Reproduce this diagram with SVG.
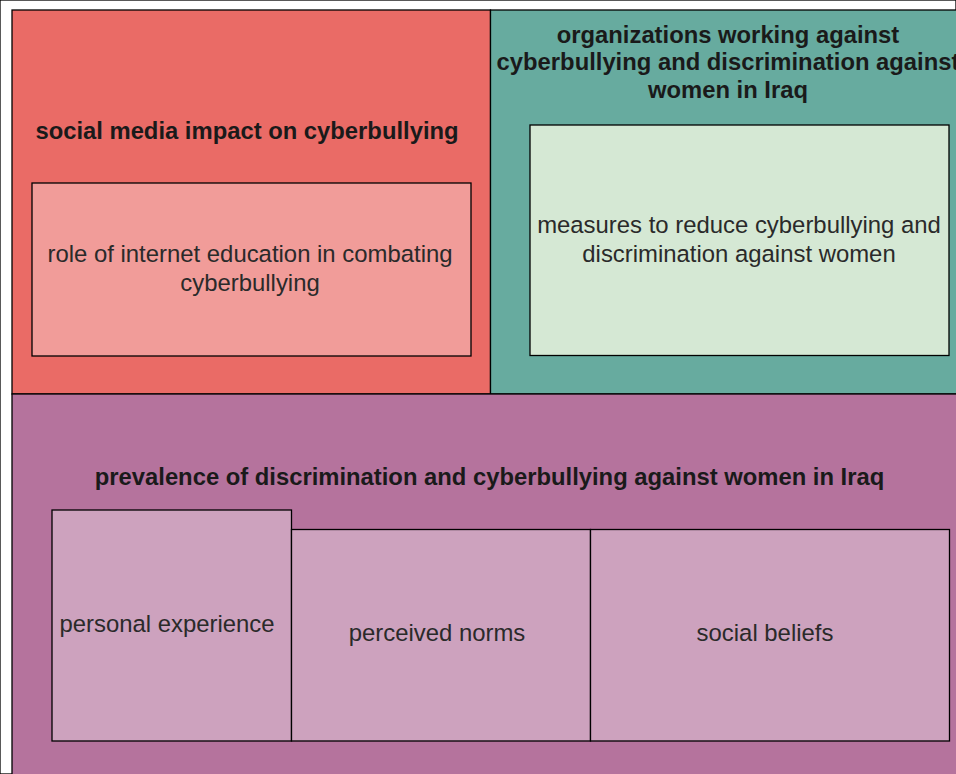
<svg xmlns="http://www.w3.org/2000/svg" width="956" height="774" viewBox="0 0 956 774">
<style>
rect{stroke:#000;stroke-width:1.3}
text{font-family:"Liberation Sans",Arial,sans-serif;font-size:23.9px;fill:#2a2a2a;text-anchor:middle}
.b{font-weight:bold;fill:#1a1a1a;font-size:23.8px}
</style>
<rect x="0" y="0" width="956" height="774" fill="#fff" stroke="none"/>
<g id="social-media">
<rect x="12" y="10" width="478.5" height="384" fill="#EA6B66"/>
<text class="b" x="247" y="139">social media impact on cyberbullying</text>
</g>
<g id="internet-education">
<rect x="32" y="183" width="439" height="173" fill="#F19C99"/>
<text x="250" y="262">role of internet education in combating</text>
<text x="250" y="291">cyberbullying</text>
</g>
<g id="organizations">
<rect x="490.5" y="10" width="480" height="384" fill="#67AB9F"/>
<text class="b" x="728" y="43">organizations working against</text>
<text class="b" x="728" y="70">cyberbullying and discrimination against</text>
<text class="b" x="728" y="98">women in Iraq</text>
</g>
<g id="measures">
<rect x="530" y="125" width="419" height="230.5" fill="#D5E8D4"/>
<text x="739" y="233">measures to reduce cyberbullying and</text>
<text x="739" y="262">discrimination against women</text>
</g>
<g id="prevalence">
<rect x="12" y="394" width="960" height="400" fill="#B5739D"/>
<text class="b" x="489.5" y="485">prevalence of discrimination and cyberbullying against women in Iraq</text>
</g>
<g id="personal-experience">
<rect x="52" y="510" width="239.5" height="231" fill="#CDA2BE"/>
<text x="167" y="632">personal experience</text>
</g>
<g id="perceived-norms">
<rect x="291.5" y="529.5" width="299" height="211.5" fill="#CDA2BE"/>
<text x="437" y="641">perceived norms</text>
</g>
<g id="social-beliefs">
<rect x="590.5" y="529.5" width="359" height="211.5" fill="#CDA2BE"/>
<text x="765" y="641">social beliefs</text>
</g>
<g id="connectors"></g>
</svg>
